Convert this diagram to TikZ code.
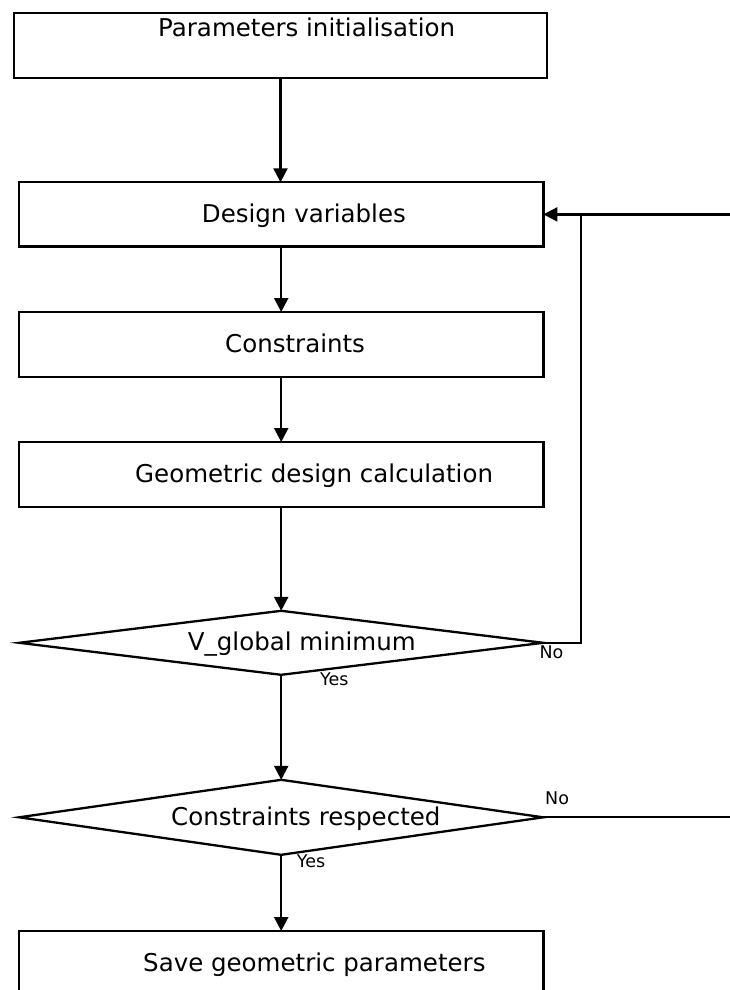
\documentclass[tikz,border=0pt]{standalone}
\usepackage{fontspec}
\setmainfont{DejaVu Sans}
\usetikzlibrary{shapes.geometric,arrows.meta}
\tikzset{
  boxnode/.style={draw=black, line width=2.3pt, rectangle, inner sep=0pt, outer sep=0pt},
  dianode/.style={draw=black, line width=2.3pt, diamond, inner sep=0pt, outer sep=0pt, minimum width=524pt, minimum height=64pt},
  bigtext/.style={anchor=base west, inner sep=0pt, font=\fontsize{24.5}{29}\selectfont},
  smalltext/.style={anchor=base west, inner sep=0pt, font=\fontsize{17.5}{21}\selectfont},
  conn/.style={draw=black, line width=2.3pt},
  arr/.style={conn, -{Triangle[length=14pt,width=14pt]}}
}
\begin{document}
\begin{tikzpicture}[x=1pt,y=-1pt]
\useasboundingbox (0,0) rectangle (730,990);
% boxes
\node[boxnode, minimum width=533pt, minimum height=65pt] (b1) at (280.5,45.2) {};
\node[boxnode, minimum width=524.5pt, minimum height=64.2pt] (b2) at (281.2,214.4) {};
\node[boxnode, minimum width=524.5pt, minimum height=65pt] (b3) at (281.2,344.5) {};
\node[boxnode, minimum width=524.5pt, minimum height=65pt] (b4) at (281.2,474.5) {};
\node[dianode] (d1) at (281.2,642.8) {};
\node[dianode, minimum height=75pt] (d2) at (281.2,817.3) {};
\node[boxnode, minimum width=524.5pt, minimum height=65pt] (b7) at (281.2,963.5) {};
% texts
\node[bigtext] (t1) at (158,36.7) {Parameters initialisation};
\node[bigtext] (t2) at (201.7,222.3) {Design variables};
\node[bigtext] (t3) at (225,352.8) {Constraints};
\node[bigtext] (t4) at (135,482.8) {Geometric design calculation};
\node[bigtext] (t5) at (187.7,650.7) {V\_global minimum};
\node[bigtext] (t6) at (171,825.3) {Constraints respected};
\node[bigtext] (t7) at (143,971) {Save geometric parameters};
% labels
\node[smalltext] (no1) at (539.3,658.3) {No};
\node[smalltext] (yes1) at (320,685.7) {Yes};
\node[smalltext] (no2) at (545,804) {No};
\node[smalltext] (yes2) at (296.7,867.3) {Yes};
% free ends
\coordinate (fb) at (581,214.4);
\coordinate (rin) at (730,214.4);
\coordinate (rout) at (730,817.3);
% connectors
\draw[arr] (b1.south) -- (b1.south |- b2.north);
\draw[arr] (b2.south) -- (b3.north);
\draw[arr] (b3.south) -- (b4.north);
\draw[arr] (b4.south) -- (d1.north);
\draw[arr] (d1.south) -- (d2.north);
\draw[arr] (d2.south) -- (b7.north);
\draw[conn] (d1.east) -| (fb);
\draw[arr] (rin) -- (b2.east);
\draw[conn] (d2.east) -- (rout);
\end{tikzpicture}
\end{document}
